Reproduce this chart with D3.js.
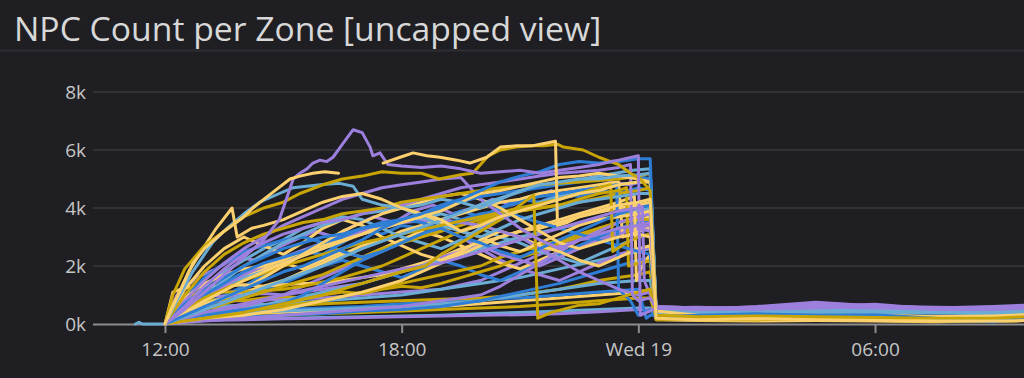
<!DOCTYPE html>
<html>
<head>
<meta charset="utf-8">
<script src="https://cdn.jsdelivr.net/npm/d3@7"></script>
<style>
  body { margin: 0; background: #1f1f23; }
  svg { display: block; }
</style>
</head>
<body>
<svg id="chart" width="1024" height="378"></svg>
<script>
// Series start counting from Tue 18 Feb 12:00, times in hours from there
const startTime = new Date(2025, 1, 18, 12, 0);
const viewHours = [-1.825, 21.777];
const yTicks = [0, 2, 4, 6, 8];              // thousands of NPCs
const xTickHours = [0, 6, 12, 18];
const tailHours = [12.45, 13.5, 15, 16.5, 18, 19.5, 21, 21.8];

// one letter per zone: P purple, Y light yellow, G gold, B blue, L light blue
const seriesColors = ["L","P","Y","G","B","G","L","P","L","B",
                      "P","B","Y","G","L","P","B","Y","G","L",
                      "Y","P","G","P","L","Y","B","G","Y","P",
                      "B","Y","L","B","G","P","Y","G","P","L",
                      "B","P","G","Y","L","Y","B","G","P","Y"];

// [hour, thousands] while the zones are filling up
const rampPoints = [
  [[-0.75,0],[-0.66,0.06],[-0.57,0],[0,0],[0.5,0.12],[1,0.15],[2,0.18],[3,0.2],[4,0.22],[5,0.25],[6,0.28],[7,0.3],[8,0.35],[9,0.4],[10,0.45],[11,0.5],[12,0.55],[12.3,0.55]],
  [[0,0],[0.5,0.1],[1,0.12],[2,0.15],[3,0.18],[4,0.2],[5,0.22],[6,0.25],[7,0.28],[8,0.3],[9,0.32],[10,0.35],[11,0.42],[12,0.5],[12.3,0.5]],
  [[0,0],[0.3,0.3],[1,0.35],[2,0.38],[3,0.4],[4,0.45],[5,0.5],[6,0.55],[7,0.6],[8,0.7],[9,0.8],[10,0.9],[11,1.0],[12,1.1],[12.3,1.2]],
  [[0,0],[0.3,0.2],[1,0.25],[2,0.3],[3,0.3],[4,0.35],[5,0.4],[6,0.45],[7,0.5],[8,0.55],[9,0.6],[10,0.7],[11,0.8],[12,0.9],[12.3,0.9]],
  [[0,0],[0.3,0.3],[1,0.4],[2,0.45],[3,0.5],[4,0.55],[5,0.6],[6,0.7],[7,0.75],[8,0.85],[9,0.9],[10,1.0],[11,1.1],[12,1.2],[12.2,0.2],[12.3,0.3]],
  [[0,0],[0.2,0.4],[0.5,0.5],[1,0.55],[2,0.6],[3,0.6],[4,0.7],[5,0.75],[6,0.8],[7,0.85],[8,0.9],[9,1.0],[9.5,1.1],[10,1.2],[10.5,1.35],[11,1.5],[11.5,1.6],[12,1.7],[12.3,1.8]],
  [[0,0],[0.3,0.3],[1,0.35],[2,0.4],[3,0.45],[4,0.5],[5,0.55],[6,0.6],[7,0.7],[8,0.8],[9,1.0],[10,1.2],[11,1.4],[12,1.5],[12.3,1.5]],
  [[0,0],[0.2,0.6],[0.5,0.7],[1,0.75],[1.5,0.8],[2,0.8],[3,0.85],[4,0.9],[5,1.0],[6,1.1],[7,1.2],[8,1.5],[8.5,1.8],[9,2.1],[9.5,2.4],[10,2.7],[10.5,2.9],[11,3.0],[11.5,3.2],[12,3.3],[12.3,3.4]],
  [[0,0],[0.2,0.5],[0.5,0.55],[1,0.6],[2,0.65],[3,0.7],[4,0.8],[5,0.9],[6,1.0],[7,1.2],[8,1.4],[9,1.6],[10,1.9],[11,2.2],[12,2.5],[12.3,2.6]],
  [[0,0],[0.5,0.15],[1,0.2],[2,0.25],[3,0.3],[4,0.35],[5,0.45],[6,0.5],[7,0.6],[8,0.8],[9,1.1],[10,1.4],[11,1.8],[11.5,2.0],[12,2.2],[12.3,2.3]],
  [[0,0],[0.5,0.2],[1,0.4],[1.5,0.5],[2,0.6],[2.5,0.8],[3,1.0],[3.5,1.3],[4,1.6],[4.5,1.9],[5,2.2],[5.5,2.5],[6,2.8],[6.5,3.1],[7,3.3],[7.5,3.0],[8,2.6],[8.5,2.2],[9,1.9],[9.5,1.7],[10,1.5],[10.5,1.8],[11,2.1],[11.5,2.4],[12,2.6],[12.3,2.6]],
  [[0,0],[0.5,0.5],[1,0.8],[1.5,0.9],[2,1.0],[2.5,1.2],[3,1.4],[3.5,1.7],[4,2.0],[4.5,2.2],[5,2.0],[5.5,1.8],[6,1.6],[6.5,1.9],[7,2.2],[7.5,2.0],[8,1.7],[8.5,1.5],[9,1.8],[9.5,2.1],[10,2.4],[10.5,2.7],[11,3.0],[11.5,3.3],[12,3.5],[12.3,3.6]],
  [[0,0],[0.5,0.6],[1,1.0],[1.5,1.4],[2,1.6],[2.5,1.9],[3,2.1],[3.5,1.9],[4,2.2],[4.5,2.5],[5,2.3],[5.5,2.6],[6,2.9],[6.5,3.2],[7,3.0],[7.5,2.7],[8,2.4],[8.5,2.1],[9,1.9],[9.5,2.2],[10,2.5],[10.5,2.9],[11,3.2],[11.5,3.5],[12,3.6],[12.3,3.7]],
  [[0,0],[0.3,0.7],[0.8,0.8],[1.5,0.85],[2,0.8],[2.5,0.9],[3,0.95],[3.5,0.9],[4,1.0],[4.5,1.1],[5,1.05],[5.5,1.2],[6,1.3],[6.5,1.25],[7,1.4],[7.5,1.6],[8,1.8],[8.5,2.0],[9,2.3],[9.5,2.5],[10,2.8],[10.5,3.0],[11,3.3],[11.5,3.5],[12,3.6],[12.3,3.6]],
  [[0,0],[0.5,0.4],[1,0.9],[1.5,1.3],[2,1.6],[2.5,1.8],[3,2.1],[3.5,2.4],[4,2.6],[4.5,2.9],[5,3.1],[5.5,3.3],[6,3.5],[6.5,3.6],[7,3.8],[7.5,3.6],[8,3.3],[8.5,3.0],[9,2.8],[9.5,2.5],[10,2.3],[10.5,2.1],[11,2.4],[11.5,2.7],[12,3.0],[12.3,3.1]],
  [[0,0],[0.3,1.0],[0.8,1.6],[1.3,1.9],[1.8,2.3],[2.3,2.2],[2.8,2.6],[3.3,2.9],[3.8,3.2],[4.3,3.0],[4.8,3.4],[5.3,3.7],[5.8,3.5],[6.3,3.9],[6.8,4.1],[7.3,3.8],[7.8,4.0],[8.3,4.3],[8.8,4.1],[9.3,4.4],[9.8,4.6],[10.3,4.4],[10.8,4.7],[11.3,4.9],[11.8,4.8],[12.3,5.0]],
  [[0,0],[0.5,0.3],[1,0.6],[1.5,1.0],[2,1.3],[2.5,1.7],[3,2.1],[3.5,2.5],[4,2.4],[4.5,2.8],[5,3.2],[5.5,3.1],[6,3.4],[6.5,3.3],[7,3.6],[7.5,3.9],[8,3.7],[8.5,4.0],[9,4.3],[9.5,4.2],[10,4.5],[10.5,4.4],[11,4.6],[11.5,4.5],[12,4.7],[12.3,4.6]],
  [[0,0],[0.5,0.4],[1,0.7],[1.5,0.9],[2,1.1],[2.5,1.3],[3,1.5],[3.5,1.8],[4,2.1],[4.5,2.4],[5,2.7],[5.5,2.9],[6,3.2],[6.5,3.4],[7,3.6],[7.5,3.8],[8,4.0],[8.5,4.2],[9,4.3],[9.5,4.5],[10,4.6],[10.5,4.7],[11,4.8],[11.5,4.9],[11.6,3.0],[12,3.2],[12.3,3.3]],
  [[0,0],[0.5,0.2],[1,0.3],[2,0.45],[3,0.6],[4,0.8],[5,1.1],[6,1.4],[7,1.7],[8,2.0],[8.5,2.3],[9,2.5],[9.5,2.7],[10,2.9],[10.5,3.1],[11,3.3],[11.5,3.5],[12,3.7],[12.3,3.9]],
  [[0,0],[0.5,0.7],[1,1.3],[1.5,1.8],[2,2.2],[2.5,2.6],[3,2.9],[3.5,3.3],[4,3.5],[4.5,3.7],[5,3.6],[5.5,3.3],[6,3.0],[6.5,2.8],[7,2.6],[7.5,2.9],[8,3.3],[8.5,3.6],[9,3.9],[9.5,4.2],[10,4.4],[10.5,4.6],[11,4.7],[11.5,4.8],[12,4.9],[12.3,4.9]],
  [[0,0],[0.2,1.1],[0.5,1.25],[1,1.3],[1.5,1.3],[2,1.35],[2.5,1.3],[3,1.35],[3.5,1.4],[4,1.4],[4.5,1.5],[5,1.6],[5.5,1.7],[6,1.9],[6.5,2.1],[7,2.3],[7.5,2.6],[8,2.8],[8.5,3.0],[9,3.2],[9.5,3.3],[10,3.5],[10.5,3.7],[11,3.85],[11.5,4.0],[12,4.1],[12.3,4.2]],
  [[0,0],[0.2,0.8],[0.5,0.95],[1,1.0],[1.5,0.95],[2,1.0],[2.5,1.05],[3,1.0],[3.5,1.1],[4,1.2],[4.5,1.3],[5,1.4],[5.5,1.6],[6,1.8],[6.5,2.0],[7,2.3],[7.5,2.5],[8,2.7],[8.5,2.4],[9,2.2],[9.5,2.0],[10,2.3],[10.5,2.6],[11,2.9],[11.5,3.1],[12,3.3],[12.3,3.2]],
  [[0,0],[0.3,0.9],[0.6,1.0],[1,1.05],[1.5,1.1],[2,1.1],[2.5,1.15],[3,1.2],[3.5,1.3],[4,1.45],[4.5,1.6],[5,1.8],[5.5,2.0],[6,2.3],[6.5,2.6],[7,2.9],[7.5,3.2],[8,3.5],[8.5,3.7],[9,3.9],[9.5,4.0],[10,4.1],[10.5,4.2],[11,4.35],[11.5,4.5],[12,4.6],[12.3,4.7]],
  [[0,0],[1,0.1],[2,0.2],[3,0.3],[4,0.4],[5,0.5],[6,0.6],[7,0.8],[8,1.0],[8.5,1.3],[9,1.7],[9.5,2.1],[10,2.5],[10.5,2.9],[11,3.2],[11.5,3.5],[12,3.7],[12.3,3.8]],
  [[0,0],[0.5,0.2],[1,0.3],[2,0.5],[3,0.8],[4,1.1],[5,1.4],[6,1.8],[7,2.2],[8,2.6],[9,3.0],[10,3.3],[11,3.6],[12,3.9],[12.3,4.0]],
  [[0,0],[0.5,0.1],[1,0.2],[2,0.3],[3,0.5],[4,0.8],[5,1.1],[6,1.5],[6.5,1.8],[7,2.1],[7.5,2.4],[8,2.7],[8.5,3.0],[9,3.2],[9.5,3.4],[10,3.6],[10.5,3.8],[11,4.0],[11.5,4.2],[11.9,4.4],[11.95,1.5],[12.1,2.0],[12.3,2.4]],
  [[0,0],[0.5,0.2],[1,0.3],[2,0.5],[3,0.7],[3.5,1.0],[4,1.4],[4.5,1.8],[5,2.2],[5.5,2.5],[6,2.8],[6.5,3.1],[7,3.3],[7.5,3.5],[8,3.7],[8.5,4.0],[9,4.2],[9.5,4.4],[10,4.5],[10.5,4.6],[11,4.7],[11.45,4.8],[11.5,1.2],[11.8,0.8],[12,0.3],[12.3,0.5]],
  [[0,0],[0.5,0.3],[1,0.5],[1.5,0.7],[2,0.9],[2.5,1.1],[3,1.3],[3.5,1.5],[4,1.7],[4.5,2.0],[5,2.3],[5.5,2.6],[6,2.8],[6.5,3.0],[7,3.2],[7.5,3.4],[8,3.6],[8.5,3.8],[9,3.9],[9.5,4.0],[10,4.1],[10.5,4.3],[11,4.5],[11.5,4.6],[11.7,4.7],[11.75,2.0],[12,2.1],[12.3,2.2]],
  [[0,0],[0.5,1.2],[1,2.0],[1.5,2.6],[2,3.0],[2.5,2.7],[3,2.4],[3.5,2.8],[4,3.3],[4.5,3.6],[5,3.4],[5.5,3.0],[6,2.7],[6.5,2.4],[7,2.2],[7.5,2.5],[8,2.9],[8.5,3.2],[9,3.0],[9.5,2.7],[10,2.5],[10.5,2.2],[11,2.0],[11.5,2.3],[12,2.6],[12.3,2.7]],
  [[0,0],[0.5,0.4],[1,0.9],[2,1.7],[3,2.3],[4,2.8],[5,3.2],[6,3.5],[7,3.6],[8,3.4],[9,3.0],[9.5,2.6],[10,2.2],[10.5,1.8],[11,1.5],[11.5,1.2],[12,1.0],[12.3,1.1]],
  [[0,0],[0.5,0.9],[1,1.6],[1.5,2.1],[2,2.5],[2.5,2.7],[3,2.9],[3.5,3.0],[4,2.8],[4.5,2.5],[5,2.3],[5.5,2.5],[6,2.8],[6.5,3.1],[7,3.4],[7.5,3.6],[8,3.8],[8.5,3.9],[9,3.7],[9.5,3.5],[10,3.3],[10.5,3.1],[11,2.9],[11.5,2.7],[12,2.5],[12.3,2.4]],
  [[0,0],[0.5,0.9],[1,1.4],[1.5,1.7],[2,1.9],[2.5,2.0],[3,2.2],[3.5,2.5],[4,2.7],[4.5,2.9],[5,3.1],[5.5,3.4],[6,3.6],[6.5,3.7],[7,3.5],[7.5,3.2],[8,3.0],[8.5,2.7],[9,2.5],[9.5,2.8],[10,3.1],[10.5,3.4],[11,3.6],[11.5,3.7],[12,3.8],[12.3,3.9]],
  [[0,0],[0.5,0.5],[1,1.0],[1.5,1.5],[2,2.0],[2.5,2.4],[3,2.8],[3.5,3.1],[4,3.4],[4.5,3.6],[5,3.8],[5.5,3.9],[6,4.0],[6.5,3.7],[7,3.4],[7.5,3.2],[8,3.0],[8.5,3.3],[9,3.6],[9.5,3.8],[10,4.0],[10.5,4.2],[11,4.3],[11.5,4.4],[12,4.5],[12.3,4.5]],
  [[0,0],[0.5,0.5],[1,1.0],[1.5,1.4],[2,1.8],[2.5,2.1],[3,2.3],[3.5,2.5],[4,2.8],[4.5,3.0],[5,3.3],[5.5,3.5],[6,3.6],[6.5,3.5],[7,3.3],[7.5,3.0],[8,2.8],[8.5,2.5],[9,2.3],[9.5,2.6],[10,2.9],[10.5,3.2],[11,3.5],[11.5,3.8],[12,4.0],[12.3,4.1]],
  [[0,0],[0.5,0.5],[1,0.9],[2,1.5],[3,2.0],[4,2.4],[5,2.8],[6,3.1],[7,3.4],[8,3.7],[9,4.0],[10,4.3],[10.5,4.5],[11,4.7],[11.3,4.8],[11.35,2.5],[11.7,2.8],[12,3.0],[12.3,3.1]],
  [[0,0],[0.5,0.2],[1,0.4],[2,0.7],[3,1.0],[4,1.3],[5,1.6],[6,1.9],[7,2.1],[7.5,2.3],[8,2.5],[8.5,2.7],[9,2.9],[9.5,3.1],[10,3.3],[10.5,3.5],[11,3.7],[11.5,3.9],[12,4.0],[12.1,4.05],[12.15,1.5],[12.3,1.0]],
  [[0,0],[0.5,0.3],[1,0.6],[1.5,0.9],[2,1.2],[2.5,1.6],[3,2.0],[3.5,2.4],[4,2.8],[4.5,3.2],[5,3.5],[5.5,3.8],[6,4.0],[6.5,4.2],[7,4.4],[7.5,4.5],[8,4.3],[8.5,4.0],[9,3.6],[9.5,3.2],[10,2.8],[10.5,2.6],[11,2.8],[11.5,3.0],[12,3.1],[12.3,3.0]],
  [[0,0],[0.5,0.1],[1,0.2],[2,0.4],[3,0.7],[4,1.0],[5,1.4],[6,1.8],[6.6,2.0],[7,2.4],[7.5,2.8],[8,3.2],[8.5,3.6],[9,4.1],[9.35,4.45],[9.45,0.2],[9.8,0.4],[10.5,0.65],[11,0.7],[11.5,0.9],[12,1.1],[12.3,1.2]],
  [[0,0],[0.5,0.8],[1,1.5],[1.5,2.1],[2,2.6],[2.5,3.0],[3,3.4],[3.5,3.7],[4,4.0],[4.5,4.3],[5,4.5],[5.5,4.7],[6,4.8],[6.5,4.9],[7,5.0],[7.5,5.05],[8,4.3],[8.5,3.8],[9,3.3],[9.5,2.9],[10,2.6],[10.5,2.9],[11,3.1],[11.5,3.3],[12,3.4],[12.3,3.5]],
  [[0,0],[1,0.5],[2,1.0],[3,1.5],[4,2.0],[5,2.6],[6,3.1],[7.05,3.6],[8.16,4.2],[9.33,4.7],[10,4.85],[11,5.1],[11.86,5.3],[12.3,5.35]],
  [[0,0],[0.5,0.7],[1,1.2],[1.5,1.6],[2,2.0],[2.5,2.3],[3,2.6],[3.5,2.8],[4,3.0],[4.5,3.1],[5,3.3],[5.5,3.4],[6,3.6],[6.5,3.8],[7,4.0],[7.5,4.2],[8,4.4],[8.5,4.5],[9,4.6],[9.5,4.7],[10,4.8],[10.5,4.9],[11,5.0],[11.5,5.05],[12,5.1],[12.3,5.0]],
  [[0,0],[0.5,0.6],[1,1.3],[1.5,1.9],[2,2.4],[2.5,2.8],[3,3.1],[3.5,3.3],[4,3.5],[4.5,3.6],[5,3.8],[5.5,4.0],[6,4.1],[6.5,4.3],[7,4.5],[7.5,4.7],[8,4.8],[8.5,4.9],[9,5.0],[9.5,5.1],[10,5.2],[10.5,5.25],[11,5.3],[11.5,5.4],[11.8,5.5],[11.85,1.0],[12,0.8],[12.3,0.9]],
  [[0,0],[0.5,1.0],[1,1.8],[1.5,2.4],[2,2.8],[2.5,3.1],[3,3.3],[3.5,3.5],[4,3.6],[4.5,3.8],[5,3.9],[5.5,4.0],[6,4.2],[6.5,4.3],[7,4.4],[7.5,4.5],[8,4.6],[8.5,4.7],[9,4.75],[9.5,4.8],[10,4.85],[10.5,4.9],[11,4.95],[11.5,5.0],[12,5.1],[12.3,5.2]],
  [[0,0],[0.5,0.4],[1,0.8],[2,1.5],[3,2.1],[4,2.6],[5,3.1],[6,3.5],[7,3.9],[7.5,4.2],[8,4.5],[8.5,4.6],[9,4.75],[9.5,4.9],[10,5.05],[10.5,5.1],[11,5.2],[11.5,5.1],[12,5.0],[12.3,4.9]],
  [[0,0],[0.3,0.8],[0.7,1.8],[1.2,2.8],[1.57,3.3],[2,3.8],[2.4,4.2],[2.9,4.5],[3.25,4.7],[3.93,4.8],[4.43,4.85],[4.77,4.75],[5.0,4.3],[5.5,4.1],[6,4.0],[6.5,4.1],[7,4.3],[7.5,4.2],[8,4.0],[8.5,4.3],[9,4.6],[9.5,4.8],[10,4.9],[10.5,5.0],[11,5.0],[11.5,5.1],[12,5.15],[12.3,5.2]],
  [[0,0],[0.3,0.9],[0.6,1.8],[0.89,2.45],[1.3,3.3],[1.7,4.0],[1.83,3.0],[2.2,3.3],[2.5,3.4],[3,3.6],[3.5,3.9],[4,4.2],[4.5,4.4],[5,4.5],[5.5,4.3],[6,4.0],[6.5,3.8],[7,3.6],[7.5,3.2],[8,3.4],[8.5,3.7],[9,3.9],[9.5,4.1],[10,4.3],[10.5,4.5],[11,4.6],[11.5,4.8],[12,4.9],[12.3,4.9]],
  [[0,0],[0.5,0.3],[1,0.6],[1.5,0.9],[2,1.2],[2.5,1.5],[3,1.8],[3.5,2.0],[4,2.3],[4.5,2.6],[5,2.9],[5.5,3.3],[6,3.6],[6.5,3.8],[7,4.1],[7.5,4.3],[8,4.6],[8.5,4.9],[9,5.1],[9.5,5.25],[10,5.5],[10.5,5.6],[11,5.55],[11.5,5.6],[12,5.7],[12.3,5.7]],
  [[0,0],[0.2,1.0],[0.5,1.9],[1,2.7],[1.5,3.2],[2,3.7],[2.5,4.0],[3,4.2],[3.42,4.5],[4,4.8],[4.5,5.0],[5,5.1],[5.5,5.25],[6,5.2],[6.5,5.2],[6.95,5.0],[7.5,5.15],[7.8,5.2],[8,5.5],[8.2,5.8],[8.5,6.0],[8.9,6.1],[9.3,6.15],[9.6,6.15],[9.95,6.2],[10.1,6.1],[10.35,6.05],[10.6,6.0],[11,5.75],[11.3,5.6],[11.5,5.5],[11.8,5.2],[12.05,5.0],[12.3,4.6]],
  [[0,0],[0.5,0.5],[1,1.1],[1.5,1.7],[2,2.3],[2.5,2.9],[2.9,3.6],[3.1,4.4],[3.25,5.0],[3.42,5.2],[3.6,5.35],[3.75,5.55],[3.93,5.65],[4.1,5.6],[4.26,5.75],[4.5,6.2],[4.77,6.7],[5.0,6.6],[5.2,6.1],[5.27,5.8],[5.45,5.9],[5.65,5.5],[6,5.45],[6.5,5.4],[7,5.45],[7.5,5.35],[8,5.2],[8.5,5.25],[9,5.3],[9.5,5.2],[10,5.3],[10.5,5.4],[11,5.5],[11.3,5.6],[11.5,5.65],[12,5.8],[12.05,0.3],[12.3,0.45]],
  [[0,0],[0.15,0.5],[0.4,1.2],[0.71,2.1],[1,2.6],[1.5,3.2],[2,3.7],[2.23,4.0],[2.6,4.4],[3.17,5.0],[3.42,5.1],[3.75,5.2],[4.05,5.25],[4.4,5.2],[4.41,null],[5.53,5.55],[5.96,5.75],[6.29,5.9],[6.64,5.8],[6.97,5.75],[7.4,5.65],[7.73,5.55],[8.16,5.75],[8.5,6.1],[8.92,6.15],[9.33,6.15],[9.9,6.3],[9.95,3.4],[10.2,3.5],[10.5,3.7],[11,3.9],[11.5,4.1],[12,4.2],[12.3,4.3]]
];

// thousands at tailHours, after the reset just past midnight
const tailValues = [
  [0.42,0.45,0.4,0.45,0.48,0.42,0.45,0.5],
  [0.55,0.58,0.52,0.7,0.6,0.5,0.52,0.58],
  [0.3,0.2,0.22,0.18,0.2,0.15,0.12,0.2],
  [0.25,0.28,0.3,0.25,0.22,0.2,0.18,0.22],
  [0.3,0.32,0.28,0.3,0.25,0.12,0.1,0.2],
  [0.2,0.22,0.25,0.2,0.18,0.15,0.15,0.18],
  [0.4,0.38,0.42,0.45,0.4,0.38,0.4,0.45],
  [0.5,0.52,0.55,0.62,0.58,0.55,0.5,0.55],
  [0.35,0.4,0.45,0.42,0.45,0.4,0.38,0.42],
  [0.25,0.3,0.2,0.25,0.3,0.15,0.08,0.15],
  [0.52,0.5,0.55,0.6,0.68,0.52,0.5,0.58],
  [0.3,0.25,0.3,0.28,0.32,0.18,0.12,0.2],
  [0.38,0.28,0.25,0.3,0.28,0.22,0.25,0.3],
  [0.2,0.18,0.2,0.22,0.2,0.15,0.15,0.2],
  [0.42,0.45,0.42,0.4,0.45,0.42,0.4,0.45],
  [0.6,0.55,0.52,0.58,0.62,0.55,0.6,0.65],
  [0.28,0.35,0.3,0.32,0.28,0.15,0.1,0.18],
  [0.3,0.22,0.2,0.25,0.22,0.2,0.18,0.22],
  [0.25,0.2,0.22,0.2,0.18,0.12,0.12,0.15],
  [0.45,0.4,0.42,0.45,0.42,0.4,0.42,0.48],
  [0.35,0.3,0.28,0.32,0.3,0.25,0.3,0.35],
  [0.45,0.5,0.48,0.55,0.5,0.48,0.45,0.5],
  [0.3,0.25,0.2,0.22,0.2,0.18,0.2,0.25],
  [0.55,0.5,0.6,0.75,0.62,0.55,0.58,0.6],
  [0.45,0.42,0.4,0.38,0.42,0.4,0.35,0.4],
  [0.15,0.12,0.1,0.12,0.1,0.08,0.1,0.12],
  [0.2,0.25,0.3,0.28,0.3,0.18,0.1,0.2],
  [0.2,0.18,0.15,0.18,0.2,0.15,0.12,0.15],
  [0.4,0.25,0.3,0.28,0.25,0.2,0.22,0.28],
  [0.5,0.55,0.5,0.58,0.65,0.52,0.55,0.6],
  [0.3,0.28,0.32,0.3,0.28,0.2,0.12,0.22],
  [0.2,0.3,0.25,0.2,0.22,0.18,0.15,0.2],
  [0.4,0.45,0.48,0.45,0.42,0.45,0.48,0.45],
  [0.35,0.3,0.25,0.22,0.25,0.12,0.08,0.18],
  [0.15,0.2,0.22,0.2,0.18,0.15,0.18,0.2],
  [0.6,0.55,0.58,0.65,0.58,0.5,0.55,0.62],
  [0.25,0.18,0.2,0.22,0.18,0.15,0.12,0.15],
  [0.18,0.15,0.15,0.18,0.12,0.1,0.1,0.12],
  [0.5,0.48,0.52,0.6,0.55,0.5,0.48,0.5],
  [0.45,0.5,0.45,0.48,0.45,0.42,0.45,0.5],
  [0.28,0.25,0.22,0.25,0.22,0.15,0.1,0.15],
  [0.55,0.52,0.5,0.55,0.6,0.5,0.48,0.55],
  [0.22,0.2,0.2,0.18,0.15,0.15,0.12,0.15],
  [0.3,0.28,0.25,0.28,0.25,0.2,0.22,0.25],
  [0.4,0.38,0.4,0.42,0.4,0.38,0.4,0.42],
  [0.45,0.3,0.25,0.28,0.3,0.25,0.28,0.32],
  [0.25,0.3,0.35,0.3,0.32,0.2,0.1,0.22],
  [0.3,0.25,0.28,0.25,0.22,0.2,0.2,0.25],
  [0.55,0.5,0.55,0.72,0.62,0.58,0.55,0.6],
  [0.2,0.15,0.18,0.15,0.12,0.1,0.1,0.12]
];

const palette = { P: '#9d80dd', Y: '#fcd06e', G: '#c8a504', B: '#2f7ed6', L: '#6aacd4' };

const width = 1024, height = 378;
const plot = { left: 93, right: 1024, top: 92, bottom: 324 };

const atHour = h => new Date(startTime.getTime() + h * 3600e3);

const svg = d3.select('#chart');

svg.append('rect').attr('width', width).attr('height', height).attr('fill', '#1f1f23');

// panel title
svg.append('text')
    .attr('x', 14).attr('y', 41)
    .attr('fill', '#d8d8d8')
    .style('font-family', '"Open Sans", sans-serif')
    .style('font-size', '33.7px')
    .text('NPC Count per Zone [uncapped view]');

svg.append('line')
    .attr('x1', 0).attr('x2', width)
    .attr('y1', 50.5).attr('y2', 50.5)
    .attr('stroke', '#2d2d33').attr('stroke-width', 2);

const x = d3.scaleTime()
    .domain(viewHours.map(atHour))
    .range([plot.left, plot.right]);

const y = d3.scaleLinear()
    .domain([0, 8])
    .range([plot.bottom, plot.top]);

// horizontal grid + y labels
const yAxis = svg.append('g');
yTicks.forEach(t => {
    if (t > 0) {
        yAxis.append('line')
            .attr('x1', plot.left).attr('x2', plot.right)
            .attr('y1', y(t)).attr('y2', y(t))
            .attr('stroke', '#38383e').attr('stroke-width', 1.5);
    }
    yAxis.append('text')
        .attr('x', 86).attr('y', y(t) + 7)
        .attr('text-anchor', 'end')
        .attr('fill', '#c6c6c6')
        .style('font-family', '"Open Sans", sans-serif')
        .style('font-size', '19px')
        .text(t + 'k');
});

// series
svg.append('clipPath').attr('id', 'plotClip')
    .append('rect')
    .attr('x', plot.left).attr('y', 55)
    .attr('width', plot.right - plot.left).attr('height', plot.bottom - 55 + 2);

const line = d3.line()
    .defined(d => d[1] != null)
    .x(d => x(atHour(d[0])))
    .y(d => y(d[1]));

const seriesData = rampPoints.map((pts, i) => ({
    color: palette[seriesColors[i]],
    points: pts.concat(tailHours.map((h, j) => [h, tailValues[i][j]]))
}));

// x axis line drawn under the series
svg.append('line')
    .attr('x1', plot.left).attr('x2', plot.right)
    .attr('y1', plot.bottom + 0.5).attr('y2', plot.bottom + 0.5)
    .attr('stroke', '#8d8d8d').attr('stroke-width', 2);

svg.append('g')
    .attr('clip-path', 'url(#plotClip)')
    .selectAll('path')
    .data(seriesData)
    .enter()
    .append('path')
    .attr('d', d => line(d.points))
    .attr('fill', 'none')
    .attr('stroke', d => d.color)
    .attr('stroke-width', 3)
    .attr('stroke-linejoin', 'round')
    .attr('stroke-linecap', 'round');

// x ticks
const fmtTick = d => d.getHours() === 0 ? d3.timeFormat('%a %d')(d) : d3.timeFormat('%H:%M')(d);
const xAxis = svg.append('g')
    .attr('transform', `translate(0,${plot.bottom + 1})`)
    .call(d3.axisBottom(x)
        .tickValues(xTickHours.map(atHour))
        .tickFormat(fmtTick)
        .tickSize(8)
        .tickSizeOuter(0));

xAxis.select('.domain').remove();
xAxis.selectAll('.tick line').attr('stroke', '#8d8d8d').attr('stroke-width', 2);
xAxis.selectAll('.tick text')
    .attr('y', 31).attr('dy', 0)
    .attr('fill', '#c6c6c6')
    .style('font-family', '"Open Sans", sans-serif')
    .style('font-size', '19px');
</script>
</body>
</html>
